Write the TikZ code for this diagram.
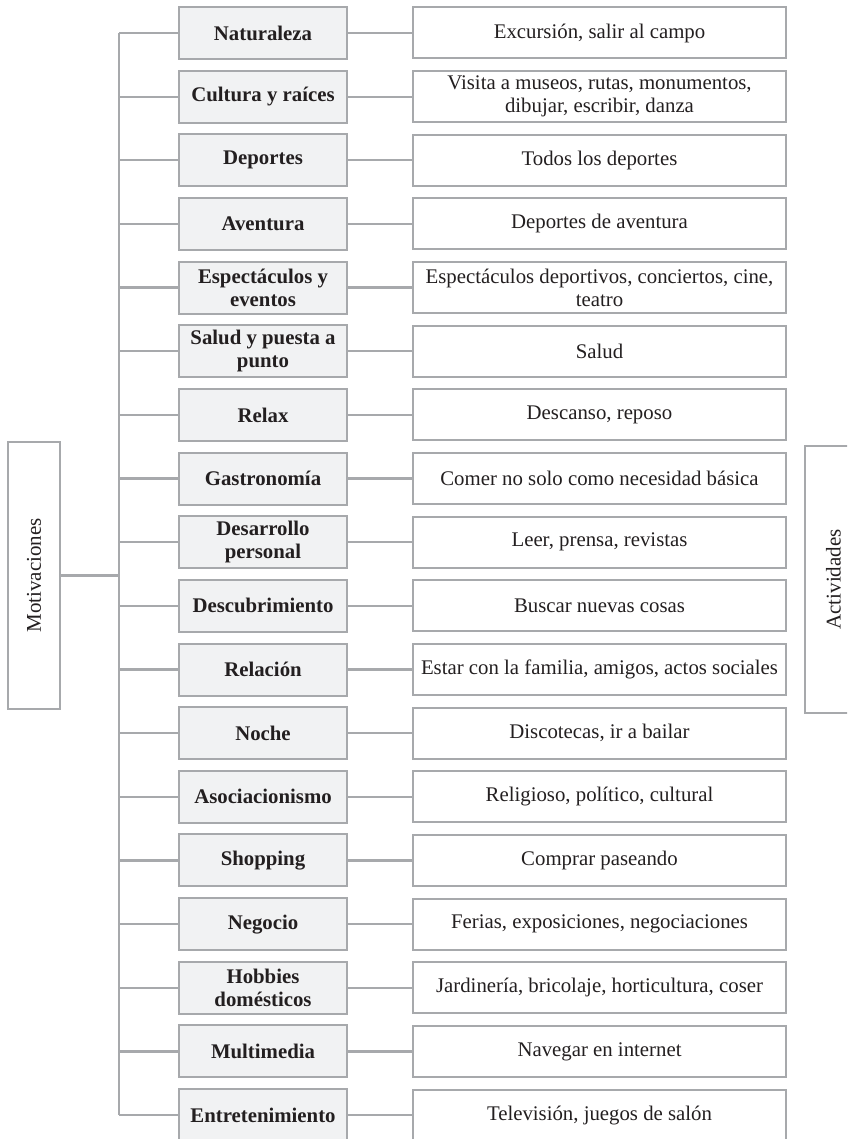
\documentclass[tikz,border=0pt]{standalone}
\usepackage{fontspec}
\setmainfont{Liberation Serif}
\definecolor{ln}{HTML}{A7A9AC}
\definecolor{lf}{HTML}{F1F2F3}
\definecolor{tx}{HTML}{231F20}
\begin{document}
\begin{tikzpicture}[x=1pt,y=-1pt,
  motbox/.style={draw=ln, line width=2pt, fill=lf, minimum width=168pt, minimum height=52pt, inner sep=0pt, align=center, font=\fontsize{20.8}{23}\selectfont\bfseries, text=tx},
  actbox/.style={draw=ln, line width=2pt, fill=white, minimum width=373pt, minimum height=51pt, inner sep=0pt, align=center, font=\fontsize{20.8}{23}\selectfont, text=tx},
  sidebox/.style={draw=ln, line width=2pt, fill=white, rotate=90, minimum width=267pt, inner sep=0pt, font=\fontsize{21}{23}\selectfont, text=tx},
  conn/.style={draw=ln, line width=2.2pt}]
\useasboundingbox (0,0) rectangle (847,1139);
\clip (0,0) rectangle (847,1139);
\coordinate (trunk) at (119,0);
\foreach \i/\m/\a in {
  0/{Naturaleza}/{Excursión, salir al campo},
  1/{Cultura y raíces}/{Visita a museos, rutas, monumentos,\\dibujar, escribir, danza},
  2/{Deportes}/{Todos los deportes},
  3/{Aventura}/{Deportes de aventura},
  4/{Espectáculos y\\eventos}/{Espectáculos deportivos, conciertos, cine,\\teatro},
  5/{Salud y puesta a\\punto}/{Salud},
  6/{Relax}/{Descanso, reposo},
  7/{Gastronomía}/{Comer no solo como necesidad básica},
  8/{Desarrollo\\personal}/{Leer, prensa, revistas},
  9/{Descubrimiento}/{Buscar nuevas cosas},
  10/{Relación}/{Estar con la familia, amigos, actos sociales},
  11/{Noche}/{Discotecas, ir a bailar},
  12/{Asociacionismo}/{Religioso, político, cultural},
  13/{Shopping}/{Comprar paseando},
  14/{Negocio}/{Ferias, exposiciones, negociaciones},
  15/{Hobbies\\domésticos}/{Jardinería, bricolaje, horticultura, coser},
  16/{Multimedia}/{Navegar en internet},
  17/{Entretenimiento}/{Televisión, juegos de salón}} {
  \node[motbox] (m\i) at (263, 33+63.65*\i) {\m};
  \node[actbox] (a\i) at (599.5, 33+63.65*\i) {\a};
  \draw[conn] (m\i.east) -- (a\i.west);
  \draw[conn] (m\i.west) -- (m\i.west -| trunk);
}
\draw[conn] (m0.west -| trunk) -- (m17.west -| trunk);
\node[sidebox, minimum height=52pt] (mot) at (34,575.5) {Motivaciones};
\draw[conn] (mot.south) -- (mot.south -| trunk);
\node[sidebox, minimum height=57pt] (act) at (833.5,579.5) {Actividades};
\end{tikzpicture}
\end{document}
